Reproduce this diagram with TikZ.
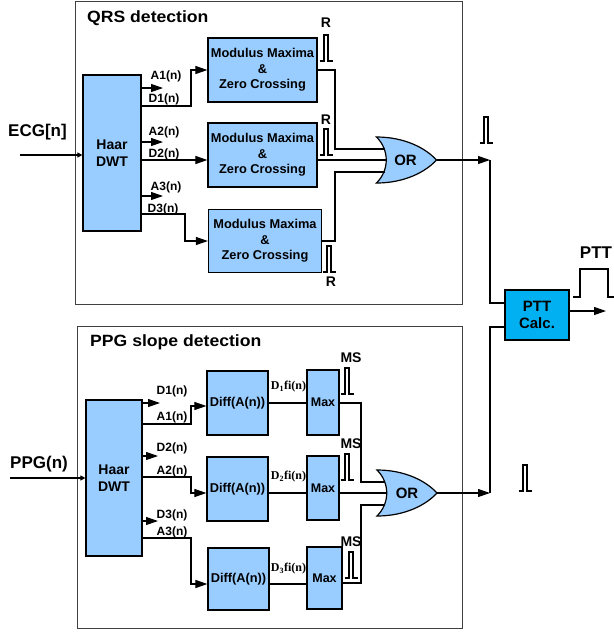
\documentclass[tikz,border=0pt]{standalone}
\usepackage{fontspec}
\setmainfont{Liberation Sans}
\newfontfamily\serifbf{Liberation Serif}
\newfontfamily\titlefont{Liberation Sans}[FakeStretch=1.08]
\usetikzlibrary{arrows.meta}
\definecolor{boxblue}{RGB}{153,204,255}
\definecolor{pttblue}{RGB}{0,176,240}
\definecolor{framegray}{RGB}{64,64,64}
\tikzset{
  blk/.style={draw=black, line width=1.2pt, fill=boxblue, inner sep=0pt, align=center,
    font=\bfseries\fontsize{12.8}{15.5}\selectfont},
  frm/.style={draw=framegray, line width=0.9pt},
  wire/.style={line width=1.1pt},
  arr/.style={line width=1.1pt, -{Triangle[length=12pt,width=8pt]}},
  smarr/.style={line width=1.1pt, -{Triangle[length=5pt,width=5pt]}},
  lbl/.style={inner sep=0pt, font=\bfseries\fontsize{12}{12}\selectfont},
  flbl/.style={inner sep=0pt, font=\serifbf\bfseries\fontsize{12}{12}\selectfont},
  big/.style={inner sep=0pt, font=\bfseries\fontsize{17}{17}\selectfont},
  ttl/.style={inner sep=0pt, anchor=west, font=\titlefont\bfseries\fontsize{16.3}{16.3}\selectfont},
  sig/.style={inner sep=0pt, font=\bfseries\fontsize{14}{14}\selectfont},
  gatelbl/.style={inner sep=0pt, font=\bfseries\fontsize{15}{15}\selectfont},
  pls/.pic={\draw[line width=1.7pt] (-6.5,0) -- (-2,0) -- (-2,-26) -- (2,-26) -- (2,0) -- (6.5,0);},
  orgate/.pic={
    \draw[line width=1.2pt, fill=boxblue] (-30,-23) .. controls (-2,-23) and (19,-12) .. (30,0)
      .. controls (19,12) and (-2,23) .. (-30,23) .. controls (-17,10) and (-17,-10) .. cycle;
    \coordinate (-in1) at (-22,-11);
    \coordinate (-in2) at (-20,0);
    \coordinate (-in3) at (-22,12);
    \coordinate (-out) at (30,0);
  }
}
\begin{document}
\begin{tikzpicture}[x=1pt,y=-1pt]
\useasboundingbox (0,0) rectangle (614,633);
% frames
\draw[frm] (75,1) rectangle (462,304);
\draw[frm] (77,326) rectangle (462,628);
\node[ttl] (t1) at (87,18) {QRS detection};
\node[ttl] (t2) at (90,342) {PPG slope detection};

% ===== top section =====
\node[blk, minimum width=58, minimum height=156, font=\bfseries\fontsize{14}{17}\selectfont] (haar1) at (112,153) {Haar\\DWT};
\node[blk, minimum width=109, minimum height=64] (mm1) at (262.5,70) {Modulus Maxima\\\&\\Zero Crossing};
\node[blk, minimum width=109, minimum height=64] (mm2) at (262.5,155) {Modulus Maxima\\\&\\Zero Crossing};
\node[blk, minimum width=113, minimum height=63] (mm3) at (265,241) {Modulus Maxima\\\&\\Zero Crossing};

\node[big] (ecg) at (37.5,132) {ECG[n]};
\coordinate (ecgin) at (20,155);
\draw[smarr] (ecgin) -- (haar1.west |- ecgin);

\coordinate (a1e) at (163,88);
\coordinate (a2e) at (163,142);
\coordinate (a3e) at (163,196);
\draw[arr] (haar1.east |- a1e) -- (a1e);
\draw[arr] (haar1.east |- a2e) -- (a2e);
\draw[arr] (haar1.east |- a3e) -- (a3e);
\draw[arr] (haar1.east |- 0,106) -- (191,106) |- (mm1.west);
\draw[arr] (haar1.east |- 0,160) -- (mm2.west |- 0,160);
\draw[arr] (haar1.east |- 0,214) -- (185,214) |- (mm3.west);
\node[lbl] (la1) at (166,76) {A1(n)};
\node[lbl] (ld1) at (164,99) {D1(n)};
\node[lbl] (la2) at (164,132.5) {A2(n)};
\node[lbl] (ld2) at (164,154) {D2(n)};
\node[lbl] (la3) at (166,187) {A3(n)};
\node[lbl] (ld3) at (163,209) {D3(n)};

% R pulses
\pic at (326,61) {pls};
\pic at (326,155) {pls};
\pic at (329,272) {pls};
\node[sig] (r1) at (326,23) {R};
\node[sig] (r2) at (326,120) {R};
\node[sig] (r3) at (331,282) {R};

% OR gate top
\pic (g1) at (406.5,160) {orgate};
\node[gatelbl] (or1) at (405.5,160) {OR};
\draw[wire] (mm1.east) -- (335,70) |- (g1-in1);
\draw[wire] (mm2.east |- 0,160) -- (g1-in2);
\draw[wire] (mm3.east) -- (335,241) |- (g1-in3);

% ===== bottom section =====
\node[blk, minimum width=56, minimum height=156, font=\bfseries\fontsize{14}{17}\selectfont] (haar2) at (114,478) {Haar\\DWT};
\node[blk, minimum width=61, minimum height=64] (diff1) at (237.5,403) {Diff(A(n))};
\node[blk, minimum width=61, minimum height=64] (diff2) at (237.5,489) {Diff(A(n))};
\node[blk, minimum width=61, minimum height=62] (diff3) at (238.5,579) {Diff(A(n))};
\node[blk, minimum width=32, minimum height=65, font=\bfseries\fontsize{12.5}{14}\selectfont] (max1) at (323,402.5) {Max};
\node[blk, minimum width=32, minimum height=64, font=\bfseries\fontsize{12.5}{14}\selectfont] (max2) at (323,488) {Max};
\node[blk, minimum width=35, minimum height=62, font=\bfseries\fontsize{12.5}{14}\selectfont] (max3) at (324.5,578) {Max};

\node[big] (ppg) at (39,464) {PPG(n)};
\coordinate (ppgin) at (10,478);
\draw[smarr] (ppgin) -- (haar2.west |- ppgin);

\coordinate (d1e) at (160,403);
\coordinate (d2e) at (158,456);
\coordinate (d3e) at (158,521);
\draw[arr] (haar2.east |- d1e) -- (d1e);
\draw[arr] (haar2.east |- d2e) -- (d2e);
\draw[arr] (haar2.east |- d3e) -- (d3e);
\draw[arr] (haar2.east |- 0,424) -- (191,424) |- (diff1.west |- 0,406);
\draw[arr] (haar2.east |- 0,477) -- (191,477) |- (diff2.west |- 0,493);
\draw[arr] (haar2.east |- 0,538) -- (191,538) |- (diff3.west |- 0,584);
\node[lbl] (lbd1) at (172,391) {D1(n)};
\node[lbl] (lba1) at (172,417) {A1(n)};
\node[lbl] (lbd2) at (172,448) {D2(n)};
\node[lbl] (lba2) at (172,471) {A2(n)};
\node[lbl] (lbd3) at (172,515) {D3(n)};
\node[lbl] (lba3) at (172,532) {A3(n)};

\draw[wire] (diff1.east |- 0,403) -- (max1.west |- 0,403);
\draw[wire] (diff2.east |- 0,493) -- (max2.west |- 0,493);
\draw[wire] (diff3.east |- 0,584) -- (max3.west |- 0,584);
\node[flbl] (f1) at (288.5,387) {D\textsubscript{1}fi(n)};
\node[flbl] (f2) at (288.5,477) {D\textsubscript{2}fi(n)};
\node[flbl] (f3) at (288.5,569) {D\textsubscript{3}fi(n)};

% MS pulses
\pic at (347,394) {pls};
\pic at (347,480) {pls};
\pic at (351,578) {pls};
\node[sig] (ms1) at (351,358) {MS};
\node[sig] (ms2) at (351,444) {MS};
\node[sig] (ms3) at (351,542) {MS};

% OR gate bottom
\pic (g2) at (407,493) {orgate};
\node[gatelbl] (or2) at (407,493) {OR};
\draw[wire] (max1.east |- 0,403) -- (361,403) |- (g2-in1);
\draw[wire] (max2.east |- 0,493) -- (g2-in2);
\draw[wire] (max3.east |- 0,583) -- (361,583) |- (g2-in3);

% ===== PTT calc =====
\node[blk, fill=pttblue, minimum width=64, minimum height=50, font=\bfseries\fontsize{15}{17}\selectfont] (ptt) at (537,315) {PTT\\Calc.};
\coordinate (j1) at (490,160);
\coordinate (j2) at (490,493);
\draw[arr] (g1-out) -- (j1);
\draw[wire] (j1) |- (ptt.west |- 0,303);
\draw[arr] (g2-out) -- (j2);
\draw[wire] (j2) |- (ptt.west |- 0,327);
\coordinate (pttout) at (606,311);
\draw[arr] (ptt.east |- pttout) -- (pttout);

\pic at (486,143) {pls};
\pic at (525,491) {pls};
\node[big] (pttl) at (596,253) {PTT};
\draw[line width=1.7pt] (573,297) -- (580,297) -- (580,269) -- (608,269) -- (608,297) -- (614,297);
\end{tikzpicture}
\end{document}
